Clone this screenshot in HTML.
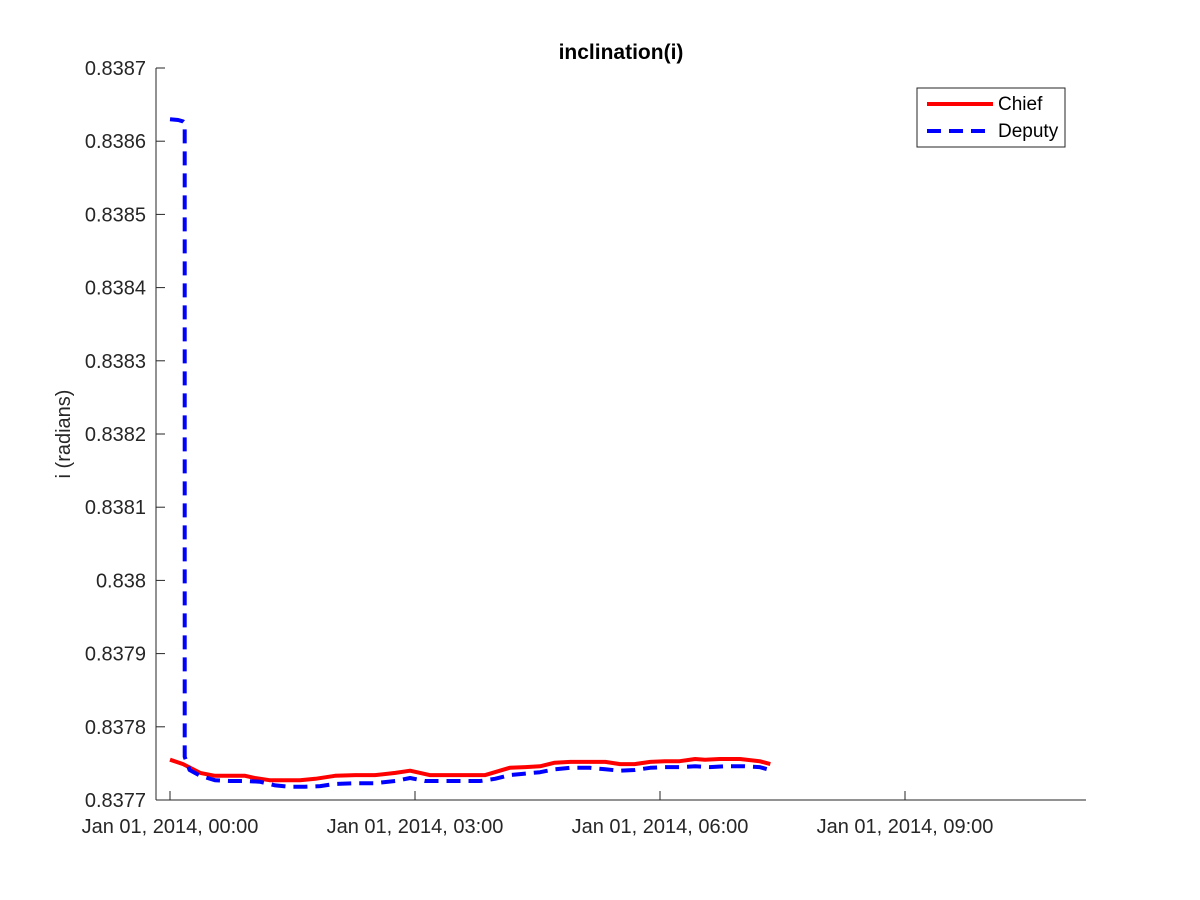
<!DOCTYPE html>
<html><head><meta charset="utf-8"><style>
body{margin:0;background:#fff}
svg{display:block;font-family:"Liberation Sans",Arial,sans-serif}
</style></head><body>
<svg id="chart" width="1200" height="900">
<rect width="1200" height="900" fill="#fff"/>
<text x="621" y="59" text-anchor="middle" font-size="21" font-weight="bold" fill="#000">inclination(i)</text>
<g id="axes"></g>
<g id="series"></g>
<text transform="translate(70,434) rotate(-90)" text-anchor="middle" font-size="20" fill="#262626">i (radians)</text>
<g>
<rect x="917" y="88" width="148" height="59" fill="#fff" stroke="#262626" stroke-width="1"/>
<line x1="927" y1="104" x2="993" y2="104" stroke="#ff0000" stroke-width="4"/>
<text x="998" y="110" font-size="19" fill="#000">Chief</text>
<line x1="927" y1="131" x2="993" y2="131" stroke="#0000ff" stroke-width="4" stroke-dasharray="14,8"/>
<text x="998" y="137" font-size="19" fill="#000">Deputy</text>
</g>
</svg>
<script>
const yTicks=[0.8377,0.8378,0.8379,0.838,0.8381,0.8382,0.8383,0.8384,0.8385,0.8386,0.8387];
const yTickLabels=["0.8377","0.8378","0.8379","0.838","0.8381","0.8382","0.8383","0.8384","0.8385","0.8386","0.8387"];
const xTicks=[0,3,6,9];
const xTickLabels=["Jan 01, 2014, 00:00","Jan 01, 2014, 03:00","Jan 01, 2014, 06:00","Jan 01, 2014, 09:00"];
const chiefT=[0,.16,.37,.55,.73,.92,1.04,1.22,1.41,1.59,1.78,2.02,2.27,2.51,2.76,2.94,3.18,3.43,3.67,3.86,4.04,4.16,4.35,4.53,4.71,4.90,5.14,5.33,5.51,5.69,5.88,6.06,6.24,6.43,6.55,6.73,6.98,7.22,7.35];
const chiefV=[.837755,.837749,.837737,.837733,.837733,.837733,.837730,.837727,.837727,.837727,.837729,.837733,.837734,.837734,.837737,.837740,.837734,.837734,.837734,.837734,.837740,.837744,.837745,.837746,.837751,.837752,.837752,.837752,.837749,.837749,.837752,.837753,.837753,.837756,.837755,.837756,.837756,.837753,.837749];
const deputyT=[0,.1,.16,.18,.18,.24,.37,.55,.73,.92,1.10,1.29,1.47,1.65,1.84,2.02,2.27,2.51,2.76,2.94,3.12,3.37,3.61,3.80,3.98,4.16,4.35,4.53,4.71,4.90,5.14,5.33,5.51,5.69,5.88,6.06,6.24,6.43,6.61,6.80,7.04,7.22,7.35];
const deputyV=[.838630,.838629,.838627,.838625,.837759,.837741,.837733,.837727,.837726,.837726,.837725,.837720,.837718,.837718,.837719,.837722,.837723,.837723,.837726,.837730,.837726,.837726,.837726,.837726,.837729,.837734,.837736,.837738,.837742,.837744,.837744,.837742,.837740,.837741,.837744,.837745,.837745,.837746,.837745,.837746,.837746,.837745,.837741];
const L=156,R=1086,T=68,B=800;
const xs=t=>170+t*(245/3);
const ys=v=>B-(v-0.8377)/0.001*(B-T);
const NS="http://www.w3.org/2000/svg";
function mk(tag,attrs,parent){const e=document.createElementNS(NS,tag);for(const k in attrs)e.setAttribute(k,attrs[k]);parent.appendChild(e);return e;}
const ax=document.getElementById('axes');
const xl=mk('line',{x1:L,y1:B,x2:R,y2:B,stroke:'#262626','stroke-width':1},ax);


const yl=mk('line',{x1:L,y1:T,x2:L,y2:B,stroke:'#262626','stroke-width':1},ax);


yTicks.forEach((v,i)=>{const y=ys(v);
 mk('line',{x1:L,y1:y,x2:L+9,y2:y,stroke:'#262626'},ax);
 const t=mk('text',{x:L-10,y:y+7,'text-anchor':'end','font-size':20,fill:'#262626'},ax);
 t.textContent=yTickLabels[i];
 
 
});
xTicks.forEach((v,i)=>{const x=xs(v);
 mk('line',{x1:x,y1:B,x2:x,y2:B-9,stroke:'#262626'},ax);
 const t=mk('text',{x:x,y:B+33,'text-anchor':'middle','font-size':20,fill:'#262626'},ax);
 t.textContent=xTickLabels[i];
 
 
});
const sg=document.getElementById('series');
function pts(T,V){return T.map((t,i)=>xs(t).toFixed(1)+','+ys(V[i]).toFixed(1)).join(' ');}
const c=mk('polyline',{points:pts(chiefT,chiefV),fill:'none',stroke:'#ff0000','stroke-width':4,'stroke-linejoin':'round'},sg);


const d=mk('polyline',{points:pts(deputyT,deputyV),fill:'none',stroke:'#0000ff','stroke-width':4,'stroke-dasharray':'14,8','stroke-linejoin':'round'},sg);


</script>
</body></html>
